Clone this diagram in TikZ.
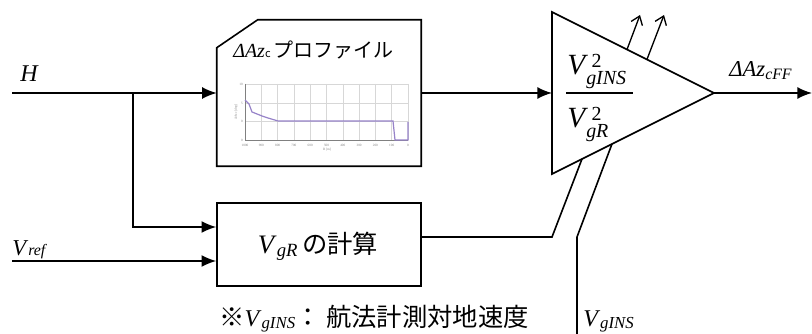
\documentclass[tikz,border=0pt]{standalone}
\usepackage{fontspec}
\setmainfont{Liberation Serif}
\newfontfamily\jp{Noto Sans CJK JP}
\usetikzlibrary{arrows.meta,calc}
\newcommand{\vs}[2]{\textit{#1}\raisebox{-0.12em}{\scalebox{0.7}{\textit{#2}}}}
\newcommand{\vsq}[2]{\textit{#1}\rlap{\hspace{0.12em}\raisebox{0.26em}{\scalebox{0.68}{2}}}\hspace{-0.06em}\raisebox{-0.32em}{\scalebox{0.68}{\textit{#2}}}}
\newcommand{\fs}[1]{\fontsize{#1}{#1}\selectfont}
\definecolor{plotline}{RGB}{150,130,200}
\definecolor{gridc}{RGB}{215,215,215}
\tikzset{
  wire/.style={line width=1.2pt},
  arr/.style={wire,-{Latex[length=11pt,width=9pt]}},
  barb/.style={line width=1pt,-{Straight Barb[length=6pt,width=9pt]}},
  blk/.style={draw,line width=1.2pt,inner sep=0pt},
  lbl/.style={inner sep=0pt}
}
\begin{document}
\begin{tikzpicture}[x=0.75pt,y=-0.75pt]
\useasboundingbox (0,0) rectangle (812,334);
% blocks
\node[blk,minimum width=153pt,minimum height=62.25pt] (vgr) at (319,244.5) {};
\node[lbl,anchor=base] (vgrt) at (318,253) {\fs{20}\vs{V}{gR}\,{\jp\fs{19}の計算}};
\node[inner sep=0pt,minimum width=153pt,minimum height=109.5pt] (prof) at (319,93) {};
\draw[line width=1.2pt] ($(prof.north west)+(0,28)$) -- ($(prof.north west)+(41,0)$) -- (prof.north east) -- (prof.south east) -- (prof.south west) -- cycle;
\node[lbl,anchor=base west] (proft) at (233,58) {\fs{15}\textit{ΔAz}\scalebox{0.55}{\jp c}\,{\jp\fs{15}プロファイル}};
% small plot
\begin{scope}
\foreach \i in {0,...,10} {\draw[gridc,line width=0.4pt] ({245+16.3*\i},84) -- ({245+16.3*\i},140);}
\foreach \yy in {84,103,121,140} {\draw[gridc,line width=0.4pt] (245,\yy) -- (408,\yy);}
\draw[gray,line width=0.4pt] (245,84) -- (245,140) -- (408,140);
\draw[plotline,line width=0.9pt] (245,100) -- (249,104) -- (252,112) -- (262,116) -- (268,118) -- (278,121) -- (393,121) -- (395,140) -- (408,140) -- (408,122);
\foreach \i/\t in {0/1000,1/900,2/800,3/700,4/600,5/500,6/400,7/300,8/200,9/100,10/0} {\node[lbl,gray,font=\fs{2.5}] at ({245+16.3*\i},145) {\t};}
\foreach \yy/\t in {84/10,103/5,121/0,140/0} {\node[lbl,gray,font=\fs{2.5},anchor=east] at (243,\yy) {\t};}
\node[lbl,gray,font=\fs{2.5}] at (327,150) {R [m]};
\node[lbl,gray,font=\fs{2.5},rotate=90] at (236,112) {ΔAzc [deg]};
\end{scope}
% triangle
\coordinate (tl) at (552,12);
\coordinate (bl) at (552,174);
\coordinate (tip) at (714,93);
\draw[line width=1.2pt,line join=miter] (tl) -- (tip) -- (bl) -- cycle;
\node[lbl,anchor=base west] (num) at (567,75) {\fs{22}\vsq{V}{gINS}};
\node[lbl,anchor=base west] (den) at (567,128) {\fs{22}\vsq{V}{gR}};
\draw[line width=0.8pt] (566,93) -- (633,93);
% inputs
\coordinate (hin) at (12,93);
\coordinate (br) at (133,93);
\coordinate (vin) at (12,261);
\node[lbl,anchor=base west] (hl) at (20,82) {\fs{18}\textit{H}};
\node[lbl,anchor=base west] (vrl) at (12,256) {\fs{17}\textit{V}\scalebox{0.7}{\textit{ref}}};
\draw[wire] (hin) -- (br);
\draw[arr] (br) -- (prof.west);
\draw[arr] (br) |- ($(vgr.west)+(0,-17.5)$);
\draw[arr] (vin) -- (vgr.west |- vin);
\draw[arr] (prof.east) -- (tl |- prof.east);
% output
\coordinate (out) at (812,93);
\draw[arr] (tip) -- (out);
\node[lbl,anchor=base west] (outl) at (729,77) {\fs{17}\vs{ΔAz}{cFF}};
% lines through triangle
\coordinate (k1) at (552,237);
\coordinate (e1) at ($(bl)!0.185!(tip)$);
\draw[wire] (vgr.east |- k1) -- (k1) -- (e1);
\coordinate (vins) at (577,334);
\coordinate (k2) at (577,237);
\coordinate (e2) at ($(bl)!0.37!(tip)$);
\draw[wire] (vins) -- (k2) -- (e2);
\coordinate (u1) at ($(tl)!0.463!(tip)$);
\coordinate (u2) at ($(tl)!0.586!(tip)$);
\coordinate (a1) at (640,15);
\coordinate (a2) at (664,15);
\draw[barb] (u1) -- (a1);
\draw[barb] (u2) -- (a2);
\node[lbl,anchor=base west] (vinsl) at (583,326) {\fs{18}\vs{V}{gINS}};
% note
\node[lbl,anchor=base west] (note) at (219,326) {{\jp\fs{19}※}\fs{18}\vs{V}{gINS}{\jp\fs{19}： 航法計測対地速度}};
\end{tikzpicture}
\end{document}
